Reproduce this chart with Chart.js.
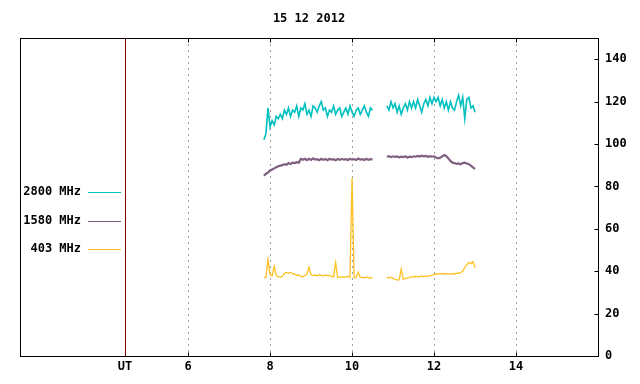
<!DOCTYPE html>
<html>
<head>
<meta charset="utf-8">
<script src="https://cdn.jsdelivr.net/npm/chart.js@4/dist/chart.umd.min.js"></script>
<style>
  html, body { margin: 0; padding: 0; background: #fff; }
  #wrap { width: 640px; height: 384px; }
</style>
</head>
<body>
<div id="wrap"><canvas id="radioChart" width="640" height="384"></canvas></div>
<script>
/**=================
 * Data
 =================*/
const titleText = '15 12 2012';
const seriesNames = ['2800 MHz', '1580 MHz', '403 MHz'];
const seriesColors = ['#00c0c0', '#7f5f7f', '#ffc020'];

// hours UT, x axis
const xMin = 1.9;
const xMax = 16;
const utPos = 4.46;
const xTickValues = [6, 8, 10, 12, 14];
const yTickValues = [0, 20, 40, 60, 80, 100, 120, 140];
const yMax = 150;

// two observing runs, sampled every 0.05 h
const sampleStep = 0.05;
const run1Start = 7.85;
const run2Start = 10.85;

const flux2800a = [102, 105, 117, 108, 111, 109, 113, 112, 114, 112, 116, 114, 117, 113, 116, 115, 118, 113,
    117, 116, 119, 114, 116, 113, 118, 117, 115, 118, 120, 116, 117, 113, 116, 115, 118, 114, 116, 117,
    113, 115, 117, 114, 118, 115, 113, 116, 117, 114, 116, 118, 115, 113, 117, 116];
const flux2800b = [118, 116, 120, 117, 119, 115, 118, 114, 117, 119, 116, 120, 117, 120, 117, 121, 118, 115,
    119, 121, 118, 122, 119, 122, 120, 122, 118, 121, 117, 120, 116, 120, 117, 116, 120, 123, 118, 122,
    112, 121, 122, 117, 118, 115];

const flux1580a = [85, 86, 86.5, 87.5, 88, 88.5, 89, 89.5, 89.8, 90, 90.5, 90.2, 91, 90.6, 91.2, 91, 91.4, 91.2,
    93, 92.6, 93, 92.4, 93, 92.5, 93.2, 92.6, 92.8, 92.3, 93, 92.5, 92.9, 92.4, 93, 92.6, 92.8, 92.3,
    92.9, 92.5, 93, 92.6, 92.8, 92.4, 93, 92.6, 92.9, 92.5, 93.1, 92.6, 92.8, 92.4, 93, 92.5, 92.9, 92.7];
const flux1580b = [94, 94.3, 93.8, 94.2, 93.9, 94.1, 93.7, 94, 93.8, 94.2, 93.6, 94, 93.8, 94.2, 94, 94.4, 94.1,
    94.5, 94.2, 94.4, 94, 94.3, 94, 94.2, 93.6, 93.2, 93.5, 94.2, 94.8, 94.3, 93.2, 92, 91.2, 91, 90.6,
    90.8, 90.4, 91, 91.2, 90.8, 90.5, 89.8, 89, 88.2];

const flux403a = [37, 37.2, 45.5, 38.5, 37.8, 42.5, 38, 37.4, 37.2, 37.6, 38.8, 39.5, 39, 39.4, 38.8, 38.6, 38,
    38.3, 37.6, 37.4, 38, 38.6, 41.8, 38.2, 37.9, 38.2, 37.7, 38.4, 38, 37.7, 38.2, 37.9, 38, 37.6, 37.3,
    44, 37, 37.2, 37.4, 37.1, 37.3, 37.5, 37.2, 84, 37, 36.9, 39.6, 37, 37.2, 36.8, 37.3, 37, 36.8, 37];
const flux403b = [37, 36.8, 37.2, 36.6, 36.2, 35.8, 36, 41, 36.2, 36.5, 36.8, 37, 37.4, 37.2, 37.6, 37.3, 37.5,
    37.8, 37.4, 37.7, 37.5, 37.9, 38.1, 38.4, 38.8, 38.6, 39, 38.7, 38.9, 38.6, 38.8, 38.5, 38.9, 38.7,
    39.1, 39, 39.4, 40, 41.8, 43, 44.2, 43.6, 44.5, 41.5];

/**=================
 * Helpers
 =================*/
function toPoints(start, values) {
    return values.map((v, i) => ({ x: +(start + i * sampleStep).toFixed(3), y: v }));
}

function buildSeries(first, second) {
    const a = toPoints(run1Start, first);
    const b = toPoints(run2Start, second);
    // null point breaks the line between the two runs
    const gapX = (a[a.length - 1].x + b[0].x) / 2;
    return [...a, { x: gapX, y: null }, ...b];
}

const FONT = 'DejaVu Sans Mono';

/**=================
 * Frame / legend plugin
 =================*/
const gnuFrame = {
    id: 'gnuFrame',
    beforeDatasetsDraw(chart) {
        const { ctx, chartArea, scales } = chart;
        const x = Math.round(scales.x.getPixelForValue(utPos)) + 0.5;
        ctx.save();
        ctx.strokeStyle = '#800000';
        ctx.lineWidth = 1;
        ctx.beginPath();
        ctx.moveTo(x, chartArea.top);
        ctx.lineTo(x, chartArea.bottom);
        ctx.stroke();
        ctx.restore();
    },
    afterDraw(chart) {
        const { ctx, chartArea, scales } = chart;
        const l = Math.round(chartArea.left) + 0.5;
        const r = Math.round(chartArea.right) + 0.5;
        const t = Math.round(chartArea.top) + 0.5;
        const b = Math.round(chartArea.bottom) + 0.5;
        ctx.save();
        ctx.strokeStyle = '#000';
        ctx.lineWidth = 1;
        ctx.strokeRect(l, t, r - l, b - t);

        // inward tick marks
        ctx.beginPath();
        xTickValues.forEach(v => {
            const px = Math.round(scales.x.getPixelForValue(v)) + 0.5;
            ctx.moveTo(px, t); ctx.lineTo(px, t + 4);
            ctx.moveTo(px, b); ctx.lineTo(px, b - 4);
        });
        yTickValues.forEach(v => {
            const py = Math.round(scales.y.getPixelForValue(v)) + 0.5;
            ctx.moveTo(r, py); ctx.lineTo(r - 4, py);
        });
        ctx.stroke();

        // key, left of the UT line
        ctx.font = 'bold 12px "' + FONT + '"';
        ctx.textAlign = 'right';
        ctx.textBaseline = 'middle';
        seriesNames.forEach((name, i) => {
            const y = Math.round(192 + i * 28.5);
            ctx.fillStyle = '#000';
            ctx.fillText(name, 81, y);
            ctx.fillStyle = seriesColors[i];
            ctx.fillRect(88, y, 33, 1);
        });
        ctx.restore();
    }
};

/**=================
 * Chart
 =================*/
const radioCtx = document.getElementById('radioChart');
const radioChart = new Chart(radioCtx, {
    type: 'line',
    data: {
        datasets: [
            { label: seriesNames[0], data: buildSeries(flux2800a, flux2800b), borderColor: seriesColors[0], borderWidth: 1.6 },
            { label: seriesNames[1], data: buildSeries(flux1580a, flux1580b), borderColor: seriesColors[1], borderWidth: 2.2 },
            { label: seriesNames[2], data: buildSeries(flux403a, flux403b), borderColor: seriesColors[2], borderWidth: 1.3 }
        ]
    },
    options: {
        responsive: false,
        animation: false,
        events: [],
        elements: {
            line: { tension: 0, fill: false },
            point: { radius: 0 }
        },
        layout: { padding: { left: 20, right: 0, top: 0, bottom: 0 } },
        scales: {
            x: {
                type: 'linear',
                position: 'bottom',
                min: xMin,
                max: xMax,
                afterBuildTicks: scale => {
                    scale.ticks = [utPos, ...xTickValues].map(v => ({ value: v }));
                },
                afterFit: scale => { scale.height = 28; },
                ticks: {
                    autoSkip: false,
                    maxRotation: 0,
                    padding: 4,
                    color: '#000',
                    font: { family: FONT, size: 12, weight: 'bold' },
                    callback: v => (v === utPos ? 'UT' : String(v))
                },
                grid: {
                    drawTicks: false,
                    color: c => (c.tick && c.tick.value === utPos ? 'rgba(0,0,0,0)' : '#a0a0a0'),
                    lineWidth: 1
                },
                border: { display: false, dash: [2, 4] }
            },
            y: {
                position: 'right',
                min: 0,
                max: yMax,
                afterBuildTicks: scale => {
                    scale.ticks = yTickValues.map(v => ({ value: v }));
                },
                afterFit: scale => { scale.width = 42; },
                ticks: {
                    padding: 7,
                    color: '#000',
                    font: { family: FONT, size: 12, weight: 'bold' }
                },
                grid: { display: false, drawTicks: false },
                border: { display: false }
            }
        },
        plugins: {
            legend: { display: false },
            tooltip: { enabled: false },
            title: {
                display: true,
                text: titleText,
                fullSize: false,
                color: '#000',
                font: { family: FONT, size: 12, weight: 'bold', lineHeight: 1.2 },
                padding: { top: 12, bottom: 11.6 }
            }
        }
    },
    plugins: [gnuFrame]
});
</script>
</body>
</html>
